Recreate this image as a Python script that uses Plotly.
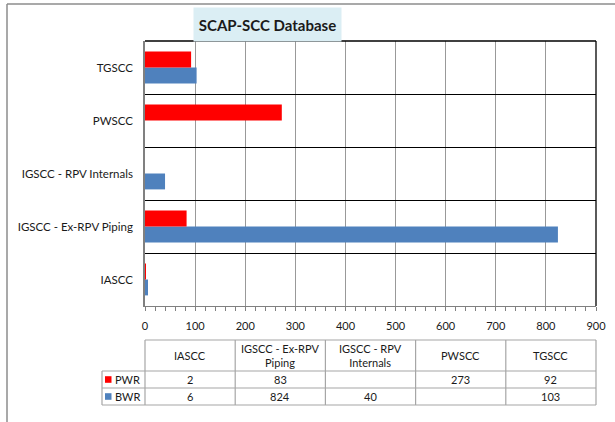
import plotly.graph_objects as go

categories = ["IASCC", "IGSCC - Ex-RPV Piping", "IGSCC - RPV Internals", "PWSCC", "TGSCC"]
header_labels = ["IASCC", "IGSCC - Ex-RPV<br>Piping", "IGSCC - RPV<br>Internals", "PWSCC", "TGSCC"]
series_names = ["PWR", "BWR"]
pwr_values = [2, 83, None, 273, 92]
bwr_values = [6, 824, 40, None, 103]
series_colors = {"PWR": "#FF0000", "BWR": "#4F81BD"}
title_text = "SCAP-SCC Database"

FONT = "Lato"
W, H = 615, 422
ML, MR, MT, MB = 145, 19, 41, 116
PW, PH = W - ML - MR, H - MT - MB


def px_x(px):
    return (px - ML) / PW


def px_y(py):
    return (H - MB - py) / PH


fig = go.Figure()
fig.add_trace(go.Bar(y=categories, x=bwr_values, orientation="h", name="BWR",
                     marker=dict(color=series_colors["BWR"], line=dict(width=0))))
fig.add_trace(go.Bar(y=categories, x=pwr_values, orientation="h", name="PWR",
                     marker=dict(color=series_colors["PWR"], line=dict(width=0))))

shapes = []
annotations = []

# outer chart border (left + top)
shapes.append(dict(type="line", xref="paper", yref="paper", x0=px_x(7), x1=px_x(7),
                   y0=px_y(4), y1=px_y(430), line=dict(color="#8c8c8c", width=1.5)))
shapes.append(dict(type="line", xref="paper", yref="paper", x0=px_x(7), x1=px_x(620),
                   y0=px_y(4), y1=px_y(4), line=dict(color="#8c8c8c", width=1.5)))

# plot frame top and right (black)
shapes.append(dict(type="line", xref="paper", yref="paper", x0=0, x1=1, y0=1, y1=1,
                   line=dict(color="black", width=1.3), layer="above"))
shapes.append(dict(type="line", xref="paper", yref="paper", x0=1, x1=1, y0=0, y1=1,
                   line=dict(color="black", width=1.3), layer="above"))

# title
annotations.append(dict(text="<b>" + title_text + "</b>", xref="paper", yref="paper",
                        x=px_x(267.5), y=px_y(24.5), showarrow=False,
                        font=dict(family=FONT, size=15, color="#1a1a1a"),
                        bgcolor="#DBEEF4", width=145, height=31,
                        xanchor="center", yanchor="middle"))

# data table
n = len(categories)
col_edges = [i / n for i in range(n + 1)]
leg_left = px_x(102)
row_edges = [px_y(340), px_y(371), px_y(388), px_y(405)]
grid = dict(color="#a6a6a6", width=1.2)

# horizontal lines
shapes.append(dict(type="line", xref="paper", yref="paper", x0=0, x1=1,
                   y0=row_edges[0], y1=row_edges[0], line=grid))
for r in row_edges[1:]:
    shapes.append(dict(type="line", xref="paper", yref="paper", x0=leg_left, x1=1,
                       y0=r, y1=r, line=grid))
# vertical lines
shapes.append(dict(type="line", xref="paper", yref="paper", x0=leg_left, x1=leg_left,
                   y0=row_edges[1], y1=row_edges[3], line=grid))
for c in col_edges:
    shapes.append(dict(type="line", xref="paper", yref="paper", x0=c, x1=c,
                       y0=row_edges[0], y1=row_edges[3], line=grid))

# header texts
for i, lab in enumerate(header_labels):
    annotations.append(dict(text=lab, xref="paper", yref="paper",
                            x=(col_edges[i] + col_edges[i + 1]) / 2,
                            y=(row_edges[0] + row_edges[1]) / 2, showarrow=False,
                            font=dict(family=FONT, size=11, color="#1a1a1a"),
                            xanchor="center", yanchor="middle"))

series_values = {"PWR": pwr_values, "BWR": bwr_values}
for r, name in enumerate(series_names):
    yc = (row_edges[r + 1] + row_edges[r + 2]) / 2
    # legend key
    shapes.append(dict(type="rect", xref="paper", yref="paper",
                       x0=px_x(105), x1=px_x(111.5), y0=yc - 3.3 / PH, y1=yc + 3.3 / PH,
                       fillcolor=series_colors[name], line=dict(width=0)))
    annotations.append(dict(text=name, xref="paper", yref="paper", x=px_x(113), y=yc,
                            showarrow=False, xanchor="left", yanchor="middle",
                            font=dict(family=FONT, size=11, color="#1a1a1a")))
    for i, v in enumerate(series_values[name]):
        if v is None:
            continue
        annotations.append(dict(text=str(v), xref="paper", yref="paper",
                                x=(col_edges[i] + col_edges[i + 1]) / 2, y=yc,
                                showarrow=False, xanchor="center", yanchor="middle",
                                font=dict(family=FONT, size=11, color="#1a1a1a")))

fig.update_layout(
    width=W, height=H,
    margin=dict(l=ML, r=MR, t=MT, b=MB, autoexpand=False),
    paper_bgcolor="white", plot_bgcolor="white",
    barmode="group", bargap=0.4, bargroupgap=0,
    showlegend=False,
    font=dict(family=FONT, size=11, color="#1a1a1a"),
    shapes=shapes, annotations=annotations,
    xaxis=dict(range=[0, 900], dtick=100, tick0=0, showgrid=True, gridcolor="#999999",
               gridwidth=1, zeroline=False, showline=True, linecolor="#808080", linewidth=1.3,
               ticks="outside", ticklen=4, tickcolor="#808080", automargin=False,
               minor=dict(dtick=20, ticks="outside", ticklen=4, tickcolor="#808080", showgrid=False),
               tickfont=dict(family=FONT, size=11, color="#1a1a1a"), ticklabelstandoff=6,
               fixedrange=True),
    yaxis=dict(type="category", categoryorder="array", categoryarray=categories,
               tickson="boundaries", showgrid=True, gridcolor="black", gridwidth=1,
               showline=True, linecolor="#808080", linewidth=1.5, ticks="", automargin=False,
               tickfont=dict(family=FONT, size=11.5, color="#1a1a1a"), ticklabelstandoff=8,
               fixedrange=True),
)

fig.write_html("out.html", config={"displayModeBar": False},
               post_script="document.body.style.margin='0px';document.body.style.overflow='hidden';")
